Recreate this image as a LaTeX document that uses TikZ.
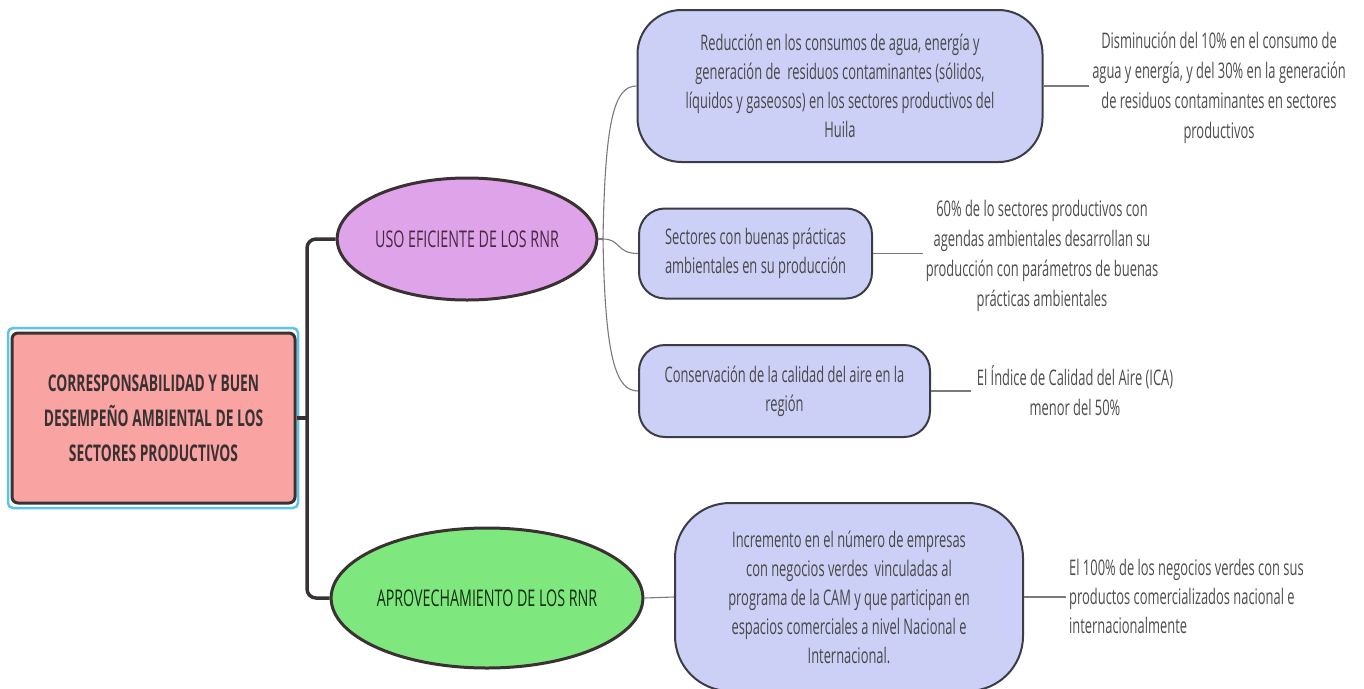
\documentclass[tikz,border=0pt]{standalone}
\usepackage{fontspec}
\usetikzlibrary{shapes.geometric,calc}
\newfontfamily\bxf{Open Sans}[FakeStretch=0.60]
\newfontfamily\rtf{Open Sans}[FakeStretch=0.60]
\newfontfamily\elf{Open Sans}[FakeStretch=0.62]
\definecolor{rootfill}{HTML}{F9A3A3}
\definecolor{rootline}{HTML}{3A3232}
\definecolor{cyanline}{HTML}{5BC3EE}
\definecolor{usofill}{HTML}{DFA3E9}
\definecolor{aprofill}{HTML}{7EE87E}
\definecolor{boxfill}{HTML}{CDD0F6}
\definecolor{boxline}{HTML}{3C3C46}
\definecolor{txtgray}{HTML}{484848}
\definecolor{leafgray}{HTML}{4D4D4D}
\definecolor{thin}{HTML}{7A7A7A}
\tikzset{
  rootbox/.style={draw=rootline, line width=3pt, fill=rootfill, rounded corners=6pt,
    minimum width=283pt, minimum height=170pt, align=center, text=rootline,
    font={\rtf\bfseries\fontsize{23}{35}\selectfont}},
  ellnode/.style={ellipse, draw=rootline, line width=3pt, inner sep=0pt, align=center,
    font={\elf\fontsize{23}{30}\selectfont}},
  goalbox/.style={draw=boxline, line width=2pt, fill=boxfill, align=center, text=txtgray,
    inner sep=0pt, font={\bxf\fontsize{21.5}{29}\selectfont}},
  leaf/.style={align=center, text=leafgray, inner sep=0pt, font={\bxf\fontsize{21.5}{30}\selectfont}},
  trunk/.style={draw=rootline, line width=3.5pt, rounded corners=9pt},
  thinline/.style={draw=thin, line width=1.1pt},
}
\begin{document}
\begin{tikzpicture}[x=1pt,y=-1pt]
\useasboundingbox (0,0) rectangle (1364,688);
% root
\node[draw=cyanline, line width=2.5pt, rounded corners=5pt, minimum width=290pt, minimum height=180pt] (rootframe) at (153,418) {};
\node[rootbox] (root) at (153.5,418) {CORRESPONSABILIDAD Y BUEN\\DESEMPEÑO AMBIENTAL DE LOS\\SECTORES PRODUCTIVOS};
% level 1
\node[ellnode, fill=usofill, text=rootline!80!violet, minimum width=255pt, minimum height=122pt] (uso) at (467,239) {USO EFICIENTE DE LOS RNR};
\node[ellnode, fill=aprofill, text=rootline!70!green!40!black, minimum width=293pt, minimum height=140pt] (apro) at (487,598) {APROVECHAMIENTO DE LOS RNR};
% trunk
\coordinate (tr) at (307,0);
\draw[trunk] (uso.west) -- (uso.west -| tr) -- (apro.west -| tr) -- (apro.west);
\draw[draw=rootline, line width=3.5pt] (root.east) -- (root.east -| tr);
% goals
\node[goalbox, rounded corners=44pt, minimum width=405pt, minimum height=152pt] (g1) at (840,86)
  {Reducción en los consumos de agua, energía y\\generación de \ residuos contaminantes (sólidos,\\líquidos y gaseosos) en los sectores productivos del\\Huila};
\node[goalbox, rounded corners=26pt, minimum width=233pt, minimum height=90pt] (g2) at (755.5,253.5)
  {Sectores con buenas prácticas\\ambientales en su producción};
\node[goalbox, rounded corners=26pt, minimum width=291pt, minimum height=92pt] (g3) at (784.5,391)
  {Conservación de la calidad del aire en la\\región};
\node[goalbox, rounded corners=55pt, minimum width=348pt, minimum height=188pt] (g4) at (849,597)
  {Incremento en el número de empresas\\con negocios verdes \ vinculadas al\\programa de la CAM y que participan en\\espacios comerciales a nivel Nacional e\\Internacional.};
% leaves
\node[leaf] (l1) at (1219,88) {Disminución del 10\% en el consumo de\\agua y energía, y del 30\% en la generación\\de residuos contaminantes en sectores\\productivos};
\node[leaf] (l2) at (1042,256) {60\% de lo sectores productivos con\\agendas ambientales desarrollan su\\producción con parámetros de buenas\\prácticas ambientales};
\node[leaf] (l3) at (1075,391) {El Índice de Calidad del Aire (ICA)\\menor del 50\%};
\node[leaf, align=left, anchor=west, font={\bxf\fontsize{21.5}{29}\selectfont}] (l4) at (1069,596) {El 100\% de los negocios verdes con sus\\productos comercializados nacional e\\internacionalmente};
% thin connectors
\coordinate (br) at (603,0);
\coordinate (bp) at (uso.east -| br);
\draw[thinline] (uso.east) -- (bp);
\draw[thinline] (bp) .. controls ($(bp)+(2,-120)$) and ($(g1.west)+(-22,0)$) .. (g1.west);
\draw[thinline] (bp) .. controls ($(bp)+(18,0)$) and ($(g2.west)+(-22,0)$) .. (g2.west);
\draw[thinline] (bp) .. controls ($(bp)+(2,120)$) and ($(g3.west)+(-22,0)$) .. (g3.west);
\draw[thinline] (apro.east) -- (g4.west);
\draw[thinline] (g1.east) -- ($(g1.east -| l1.west)+(-3,0)$);
\draw[thinline] (g2.east) -- ($(g2.east -| l2.west)+(-3,0)$);
\draw[thinline] (g3.east) -- ($(g3.east -| l3.west)+(-6,0)$);
\draw[thinline] (g4.east) -- ($(g4.east -| l4.west)+(-3,0)$);
\end{tikzpicture}
\end{document}
